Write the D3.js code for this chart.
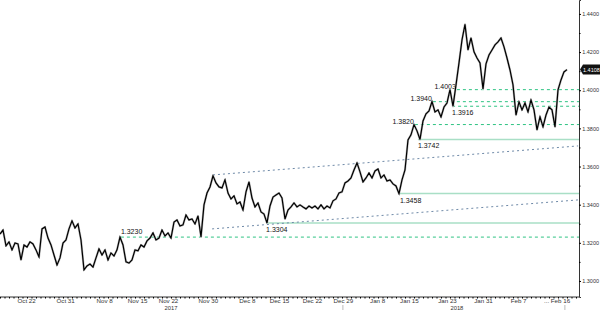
<!DOCTYPE html>
<html>
<head>
<meta charset="utf-8">
<script src="https://cdn.jsdelivr.net/npm/d3@7"></script>
<style>
  body { margin: 0; background: #fff; }
  svg { display: block; font-family: "Liberation Sans", Arial, sans-serif; }
</style>
</head>
<body>
<svg id="chart"></svg>
<script>
// GBP/USD, evenly spaced samples (Oct 2017 - Feb 2018)
var prices = [
  1.3246, 1.3267, 1.3184, 1.3205, 1.3163, 1.3199, 1.3194, 1.3110, 1.3189, 1.3178,
  1.3205, 1.3194, 1.3163, 1.3126, 1.3273, 1.3283, 1.3225, 1.3189, 1.3136, 1.3084,
  1.3121, 1.3199, 1.3215, 1.3273, 1.3315, 1.3278, 1.3299, 1.3215, 1.3058, 1.3079,
  1.3089, 1.3073, 1.3121, 1.3168, 1.3136, 1.3163, 1.3110, 1.3147, 1.3131, 1.3163,
  1.3230, 1.3189, 1.3100, 1.3094, 1.3110, 1.3163, 1.3158, 1.3189, 1.3178, 1.3210,
  1.3225, 1.3252, 1.3215, 1.3225, 1.3267, 1.3236, 1.3252, 1.3225, 1.3309, 1.3320,
  1.3288, 1.3294, 1.3346, 1.3320, 1.3325, 1.3299, 1.3341, 1.3231, 1.3399, 1.3461,
  1.3493, 1.3551, 1.3514, 1.3493, 1.3488, 1.3530, 1.3461, 1.3430, 1.3446, 1.3404,
  1.3414, 1.3372, 1.3467, 1.3519, 1.3435, 1.3388, 1.3409, 1.3362, 1.3351, 1.3304,
  1.3393, 1.3440, 1.3451, 1.3461, 1.3435, 1.3325, 1.3372, 1.3388, 1.3409, 1.3388,
  1.3399, 1.3388, 1.3378, 1.3393, 1.3383, 1.3393, 1.3378, 1.3399, 1.3378, 1.3393,
  1.3383, 1.3420, 1.3430, 1.3461, 1.3467, 1.3514, 1.3524, 1.3540, 1.3582, 1.3619,
  1.3572, 1.3519, 1.3540, 1.3566, 1.3540, 1.3577, 1.3587, 1.3540, 1.3556, 1.3524,
  1.3530, 1.3509, 1.3498, 1.3458, 1.3530, 1.3582, 1.3739, 1.3766, 1.3820, 1.3787,
  1.3742, 1.3839, 1.3876, 1.3891, 1.3940, 1.3886, 1.3897, 1.3860, 1.3912, 1.3933,
  1.4003, 1.3916, 1.4028, 1.4143, 1.4264, 1.4345, 1.4211, 1.4274, 1.4201, 1.4169,
  1.4143, 1.4007, 1.4138, 1.4185, 1.4211, 1.4238, 1.4253, 1.4274, 1.4227, 1.4169,
  1.4106, 1.4028, 1.3870, 1.3939, 1.3897, 1.3933, 1.3886, 1.3949, 1.3897, 1.3792,
  1.3860, 1.3808, 1.3870, 1.3912, 1.3897, 1.3808, 1.4002, 1.4054, 1.4096, 1.4108
];

// date labels and where they fall in the sample sequence
var dateLabels = ["Oct 22", "Oct 31", "Nov 8", "Nov 15", "Nov 22", "Nov 30", "Dec 8", "Dec 15",
                  "Dec 22", "Dec 29", "Jan 8", "Jan 15", "Jan 23", "Jan 31", "Feb 7", "... Feb 16"];
var dateIdx = [8.7, 21.7, 34.7, 45.7, 56, 69.3, 82.3, 93, 104, 114.3, 125.7, 136.3, 149, 161, 172.7, 185.5];
var yearLabels = ["2017", "2018"];
var yearIdx = [57, 152.3];
var yearSplitIdx = [114.3, 188.3];

var priceTicks = [1.30, 1.32, 1.34, 1.36, 1.38, 1.40, 1.42, 1.44];
var priceMinor = [1.31, 1.33, 1.35, 1.37, 1.39, 1.41, 1.43];

// support / resistance levels
var levelValues = [1.3230, 1.3304, 1.3458, 1.3742, 1.3820, 1.3916, 1.3940, 1.4003];
var levelStart  = [40.3, 88.7, 133.3, 139.3, 138.3, 150.7, 144.3, 152.3];
var levelSolid  = [false, true, true, true, false, false, false, false];
var levelLabelPos = ["above", "below", "below", "below", "left", "below", "left", "left"];

// channel trendlines [startIdx, startPrice, endIdx, endPrice]
var trendUpper = [71, 1.3556, 192.7, 1.3708];
var trendLower = [70.7, 1.3273, 192.7, 1.3425];

var lastPrice = 1.4108;

var svgWidth = 600, svgHeight = 310;
var axisX = 579, axisY = 297;
var fmt = d3.format(".4f");

var svg = d3.select("#chart")
    .attr("width", svgWidth)
    .attr("height", svgHeight);

var x = d3.scaleLinear()
    .domain([0, prices.length - 1])
    .range([0, 567]);
var y = d3.scaleLinear()
    .domain([1.2916, 1.4473])
    .range([axisY, 0]);

// horizontal levels
levelValues.forEach(function(v, i) {
  svg.append("line")
      .attr("x1", x(levelStart[i]))
      .attr("x2", axisX)
      .attr("y1", y(v))
      .attr("y2", y(v))
      .attr("stroke", levelSolid[i] ? "#a9dfc6" : "#2fc383")
      .attr("stroke-width", levelSolid[i] ? 1.5 : 1)
      .attr("stroke-dasharray", levelSolid[i] ? null : "3,3");

  var t = svg.append("text")
      .attr("font-size", 7)
      .attr("fill", "#111")
      .text(fmt(v));
  if (levelLabelPos[i] == "above") {
    t.attr("x", x(levelStart[i])).attr("y", y(v) - 3);
  } else if (levelLabelPos[i] == "below") {
    t.attr("x", x(levelStart[i])).attr("y", y(v) + 9);
  } else {
    t.attr("x", x(levelStart[i]) - 1).attr("y", y(v) - 1).attr("text-anchor", "end");
  }
});

// trendlines
[trendUpper, trendLower].forEach(function(t) {
  svg.append("line")
      .attr("x1", x(t[0])).attr("y1", y(t[1]))
      .attr("x2", x(t[2])).attr("y2", y(t[3]))
      .attr("stroke", "#6f8aa8")
      .attr("stroke-width", 1)
      .attr("stroke-dasharray", "2,3");
});

// price line
var line = d3.line()
    .x(function(d, i) { return x(i); })
    .y(function(d) { return y(d); });

svg.append("path")
    .datum(prices)
    .attr("fill", "none")
    .attr("stroke", "#bbb")
    .attr("stroke-width", 2.2)
    .attr("stroke-linejoin", "round")
    .attr("d", line);
svg.append("path")
    .datum(prices)
    .attr("fill", "none")
    .attr("stroke", "#000")
    .attr("stroke-width", 1.2)
    .attr("stroke-linejoin", "miter")
    .attr("d", line);

// right price axis
var yAxis = svg.append("g")
    .attr("transform", "translate(" + axisX + ",0)")
    .call(d3.axisRight(y).tickValues(priceTicks).tickFormat(fmt).tickSize(2).tickPadding(1.2));
yAxis.select(".domain").attr("stroke", "#333");
yAxis.selectAll("text")
    .attr("font-size", 5.5)
    .attr("fill", "#333")
    .style("font-family", "inherit");
svg.append("g")
    .attr("transform", "translate(" + axisX + ",0)")
    .call(d3.axisRight(y).tickValues(priceMinor).tickFormat("").tickSize(1.5))
    .select(".domain").remove();

// bottom date axis
var xAxis = svg.append("g")
    .attr("transform", "translate(0," + axisY + ")")
    .call(d3.axisBottom(x).tickValues(dateIdx).tickFormat(function(d, i) { return dateLabels[i]; })
          .tickSize(0).tickPadding(2));
xAxis.select(".domain").remove();
xAxis.selectAll("text").attr("font-size", 6.2).attr("fill", "#333").style("font-family", "inherit");
svg.append("line")
    .attr("x1", 0).attr("x2", axisX)
    .attr("y1", axisY).attr("y2", axisY)
    .attr("stroke", "#333");
svg.append("g")
    .attr("transform", "translate(0," + axisY + ")")
    .call(d3.axisBottom(x).tickValues(d3.range(0, 193, 1.5)).tickFormat("").tickSize(1.5))
    .select(".domain").remove();

yearLabels.forEach(function(lab, i) {
  svg.append("text")
      .attr("x", x(yearIdx[i]))
      .attr("y", 310)
      .attr("text-anchor", "middle")
      .attr("font-size", 5.8)
      .attr("fill", "#333")
      .text(lab);
});
yearSplitIdx.forEach(function(d) {
  svg.append("line")
      .attr("x1", x(d)).attr("x2", x(d))
      .attr("y1", 305).attr("y2", 310)
      .attr("stroke", "#bbb");
});

// last price tag
var ly = y(lastPrice);
svg.append("path")
    .attr("d", "M" + (axisX + 1) + "," + ly + "L" + (axisX + 4) + "," + (ly - 5) + "H600V" + (ly + 5) + "H" + (axisX + 4) + "Z")
    .attr("fill", "#111");
svg.append("text")
    .attr("x", axisX + 4)
    .attr("y", ly + 2)
    .attr("font-size", 5.5)
    .attr("fill", "#fff")
    .text(fmt(lastPrice));
</script>
</body>
</html>
